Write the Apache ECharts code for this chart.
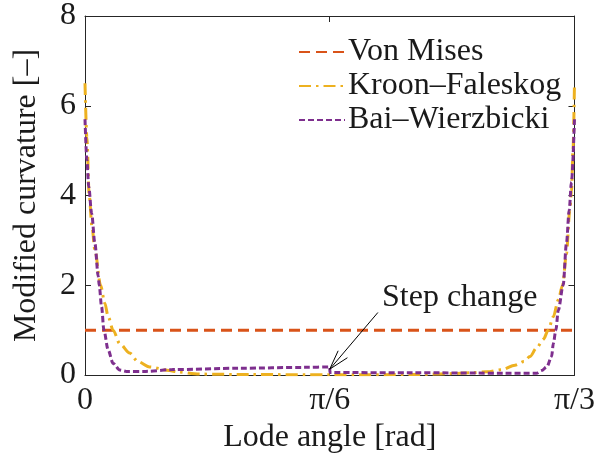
<!DOCTYPE html>
<html>
<head>
<meta charset="utf-8">
<script src="https://cdn.jsdelivr.net/npm/echarts@6/dist/echarts.min.js"></script>
<style>
html,body{margin:0;padding:0;background:#fff;}
#chart{width:598px;height:462px;}
</style>
</head>
<body>
<div id="chart"></div>
<script>
// ---- Data ----
const seriesNames = ['Von Mises', 'Kroon\u2013Faleskog', 'Bai\u2013Wierzbicki'];
const xTickValues = [0, Math.PI / 6, Math.PI / 3];
const xTickLabels = ['0', '\u03c0/6', '\u03c0/3'];
const yTicks = [0, 2, 4, 6, 8];

const vmX = [0, Math.PI / 3];
const vmY = [1, 1];

const kfX = [0, 0.004, 0.009, 0.015, 0.0212, 0.0333, 0.0425, 0.0495, 0.0601, 0.0743, 0.0956, 0.1132, 0.138, 0.1805, 0.1975, 0.244, 0.35, 0.5236, 0.7116, 0.78, 0.824, 0.86, 0.892, 0.92, 0.939, 0.952, 0.966, 0.981, 0.991, 1.002, 1.0125, 1.0217, 1.03, 1.0372, 1.0408, 1.044, 1.0472];
const kfY = [6.5, 5.3, 4.0, 3.3, 2.78, 2.0, 1.6, 1.3, 1.0, 0.7, 0.49, 0.3, 0.18, 0.1, 0.07, 0.02, 0.01, 0.005, 0.01, 0.03, 0.05, 0.07, 0.12, 0.22, 0.3, 0.41, 0.6, 0.8, 1.0, 1.3, 1.67, 2.0, 2.7, 3.67, 4.1, 5.0, 6.5];

const bwX = [0, 0.004, 0.008, 0.0142, 0.0212, 0.0283, 0.0304, 0.0355, 0.0404, 0.0495, 0.0601, 0.0743, 0.0885, 0.13, 0.1868, 0.329, 0.471, 0.5236, 0.5240, 0.7, 0.9, 0.966, 0.977, 0.988, 0.9983, 1.0019, 1.0074, 1.0125, 1.023, 1.03, 1.0359, 1.0408, 1.0472];
const bwY = [5.7, 4.8, 4.2, 3.6, 2.93, 2.2, 2.0, 1.52, 1.0, 0.56, 0.26, 0.11, 0.08, 0.08, 0.12, 0.15, 0.17, 0.18, 0.055, 0.05, 0.04, 0.04, 0.1, 0.18, 0.41, 0.7, 1.0, 1.44, 2.0, 2.93, 3.67, 4.3, 5.7];

// annotation arrow (data coordinates)
const arrowTail = [0.6266, 1.393];
const arrowTip = [0.5236, 0.13];
const arrowHead1 = [0.5416, 0.54];
const arrowHead2 = [0.5614, 0.385];
const annotationText = 'Step change';

const colors = ['#D95319', '#EDB120', '#7E2F8E'];
const FONT = '"Liberation Serif", "Times New Roman", Tinos, "DejaVu Serif", serif';
const TXT = '#1a1a1a';

function zip(xs, ys) { return xs.map((x, i) => [x, ys[i]]); }

const chart = echarts.init(document.getElementById('chart'), null, {renderer: 'canvas'});

const axisCommon = {
  axisLine: {show: true, onZero: false, lineStyle: {color: '#262626', width: 1}},
  splitLine: {show: false}
};

const option = {
  animation: false,
  backgroundColor: '#ffffff',
  grid: {left: 85, right: 20, top: 15, bottom: 87, containLabel: false},
  legend: {
    show: true,
    orient: 'vertical',
    left: 293,
    top: 31,
    itemWidth: 46,
    itemHeight: 14,
    itemGap: 2,
    itemStyle: {opacity: 0, borderWidth: 0},
    textStyle: {fontFamily: FONT, fontSize: 32, color: TXT, padding: [0, 0, 0, -2]},
    data: seriesNames
  },
  xAxis: [
    Object.assign({}, axisCommon, {
      type: 'value', position: 'bottom', min: 0, max: Math.PI / 3,
      name: 'Lode angle [rad]', nameLocation: 'middle', nameGap: 42,
      nameTextStyle: {fontFamily: FONT, fontSize: 32, color: TXT},
      axisTick: {show: true, inside: true, length: 6, customValues: xTickValues, lineStyle: {color: '#262626'}},
      axisLabel: {show: true, margin: 10, fontFamily: FONT, fontSize: 32, color: TXT,
        customValues: xTickValues,
        formatter: function (v) {
          const i = Math.round(v / (Math.PI / 6));
          return xTickLabels[i];
        }}
    }),
    Object.assign({}, axisCommon, {
      type: 'value', position: 'top', min: 0, max: Math.PI / 3,
      axisTick: {show: true, inside: true, length: 6, customValues: xTickValues, lineStyle: {color: '#262626'}},
      axisLabel: {show: false}
    })
  ],
  yAxis: [
    Object.assign({}, axisCommon, {
      type: 'value', position: 'left', min: 0, max: 8, interval: 2,
      name: 'Modified curvature [\u2013]', nameLocation: 'middle', nameGap: 42,
      nameTextStyle: {fontFamily: FONT, fontSize: 32, color: TXT},
      axisTick: {show: true, inside: true, length: 6, lineStyle: {color: '#262626'}},
      axisLabel: {show: true, margin: 9, fontFamily: FONT, fontSize: 32, color: TXT,
        formatter: function (v) { return yTicks.indexOf(v) >= 0 ? String(v) : ''; }}
    }),
    Object.assign({}, axisCommon, {
      type: 'value', position: 'right', min: 0, max: 8, interval: 2,
      axisTick: {show: true, inside: true, length: 6, lineStyle: {color: '#262626'}},
      axisLabel: {show: false}
    })
  ],
  graphic: [{
    type: 'text', left: 382, top: 282, silent: true,
    style: {text: annotationText, fontFamily: FONT, fontSize: 32, fill: TXT}
  }],
  series: [
    {
      name: seriesNames[0], type: 'line', data: zip(vmX, vmY), symbol: 'none', showSymbol: false,
      lineStyle: {color: colors[0], width: 3, type: [11, 6]}, itemStyle: {color: colors[0]}, z: 2
    },
    {
      name: seriesNames[1], type: 'line', data: zip(kfX, kfY), symbol: 'none', showSymbol: false,
      smooth: 0.3, smoothMonotone: 'x',
      lineStyle: {color: colors[1], width: 3, type: [12, 5, 2.5, 5]}, itemStyle: {color: colors[1]}, z: 3
    },
    {
      name: seriesNames[2], type: 'line', data: zip(bwX, bwY), symbol: 'none', showSymbol: false,
      smooth: 0.3, smoothMonotone: 'x',
      lineStyle: {color: colors[2], width: 3, type: [6, 3]}, itemStyle: {color: colors[2]}, z: 4,
      markLine: {
        silent: true, symbol: ['none', 'none'], animation: false,
        label: {show: false},
        lineStyle: {color: '#000', width: 1, type: 'solid'},
        emphasis: {disabled: true},
        data: [
          [{coord: arrowTail}, {coord: arrowTip}],
          [{coord: arrowTip}, {coord: arrowHead1}],
          [{coord: arrowTip}, {coord: arrowHead2}]
        ]
      }
    }
  ]
};
chart.setOption(option);
</script>
</body>
</html>
